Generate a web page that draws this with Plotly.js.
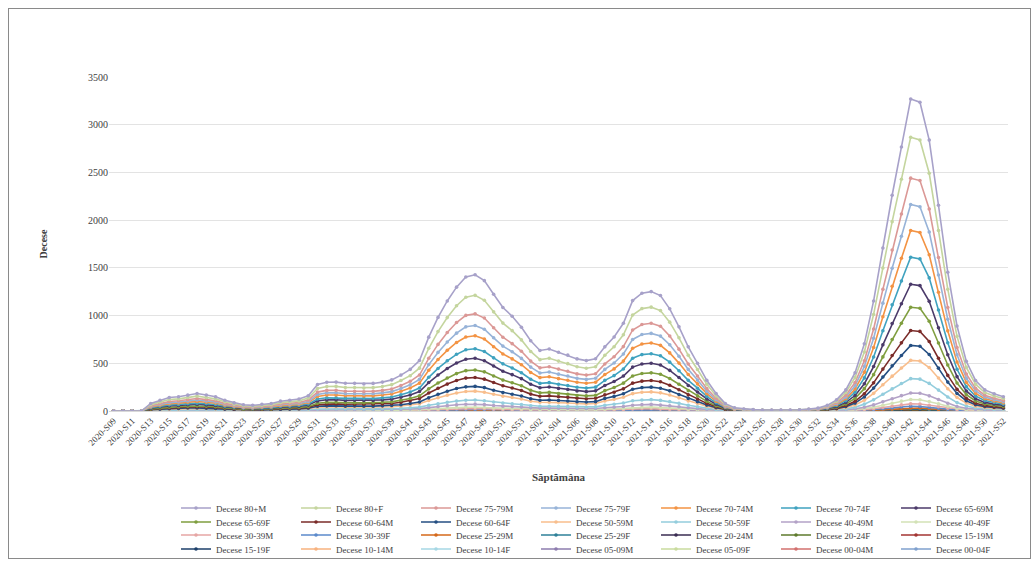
<!DOCTYPE html>
<html><head><meta charset="utf-8">
<script src="https://cdn.plot.ly/plotly-3.0.1.min.js"></script>
<style>
html,body{margin:0;padding:0;background:#fff;}
#wrap{position:relative;width:1036px;height:562px;overflow:hidden;}
#chart{width:1036px;height:562px;}
#frame{position:absolute;left:8px;top:8px;width:1021px;height:549px;border:1px solid #8a8a8a;pointer-events:none;}
</style></head>
<body><div id="wrap"><div id="chart"></div><div id="frame"></div></div>
<script>
const weeks = ['2020-S09','2020-S10','2020-S11','2020-S12','2020-S13','2020-S14','2020-S15','2020-S16','2020-S17','2020-S18','2020-S19','2020-S20','2020-S21','2020-S22','2020-S23','2020-S24','2020-S25','2020-S26','2020-S27','2020-S28','2020-S29','2020-S30','2020-S31','2020-S32','2020-S33','2020-S34','2020-S35','2020-S36','2020-S37','2020-S38','2020-S39','2020-S40','2020-S41','2020-S42','2020-S43','2020-S44','2020-S45','2020-S46','2020-S47','2020-S48','2020-S49','2020-S50','2020-S51','2020-S52','2020-S53',
'2021-S01','2021-S02','2021-S03','2021-S04','2021-S05','2021-S06','2021-S07','2021-S08','2021-S09','2021-S10','2021-S11','2021-S12','2021-S13','2021-S14','2021-S15','2021-S16','2021-S17','2021-S18','2021-S19','2021-S20','2021-S21','2021-S22','2021-S23','2021-S24','2021-S25','2021-S26','2021-S27','2021-S28','2021-S29','2021-S30','2021-S31','2021-S32','2021-S33','2021-S34','2021-S35','2021-S36','2021-S37','2021-S38','2021-S39','2021-S40','2021-S41','2021-S42','2021-S43','2021-S44','2021-S45','2021-S46','2021-S47','2021-S48','2021-S49','2021-S50','2021-S51','2021-S52'];

// Weekly deaths per group (each series' own value; the chart stacks them)
const d80M = [0,0,0,0,12,17,22,23,25,28,26,23,17,13,10,9,11,12,15,17,19,24,42,45,45,44,44,43,44,46,50,57,66,80,117,149,174,195,212,215,206,185,164,151,133,112,96,98,93,89,83,80,83,
 88,101,120,151,161,163,158,140,115,88,65,42,24,10,5,3,2,1,
 1,1,1,1,2,4,7,14,27,49,86,141,209,277,338,400,396,348,264,178,109,64,39,27,22,18];
const d80F = [0,0,0,0,11,16,20,20,22,25,23,20,16,11,9,8,9,11,14,16,17,22,38,41,41,40,39,38,39,41,45,51,59,72,105,134,157,176,190,194,186,167,148,136,119,101,86,88,84,80,74,72,74,
 91,105,124,157,167,169,164,145,119,91,68,44,25,11,5,3,2,1,
 1,1,1,2,3,4,8,15,29,53,92,152,224,297,363,429,425,374,284,191,117,69,42,29,24,20];
const d7579M = [0,0,0,0,7,10,12,13,14,16,14,13,10,7,6,5,6,7,9,10,11,14,24,26,26,25,25,24,25,26,28,32,37,45,66,84,99,111,120,122,117,105,93,85,75,63,54,56,53,50,47,45,47,
 57,66,78,99,105,106,103,91,75,57,43,28,16,7,3,2,1,1,
 1,1,1,1,2,3,5,10,19,34,60,98,145,191,234,276,274,241,183,123,76,44,27,19,15,13];
const d7579F = [0,0,0,0,6,9,11,11,12,14,13,11,9,6,5,5,5,6,8,9,9,12,21,23,23,22,22,21,22,23,25,29,33,40,59,74,87,98,106,108,103,93,82,75,66,56,48,49,47,44,41,40,41,
 54,62,74,93,99,100,97,86,71,54,40,26,15,6,3,2,1,1,
 1,1,1,1,2,3,5,10,18,34,59,97,143,189,231,273,270,238,181,122,75,44,27,18,15,13];
const d7074M = [0,0,0,0,8,11,14,14,16,18,16,14,11,8,6,6,7,8,10,11,12,15,27,29,29,28,28,27,28,29,31,36,42,51,74,94,110,124,134,136,131,117,104,95,84,71,61,62,59,56,52,51,52,
 61,70,83,104,111,113,109,97,80,61,45,29,17,7,3,2,1,1,
 1,1,1,1,2,3,5,10,19,34,60,99,146,194,237,280,277,243,185,125,77,45,28,19,15,13];
const d7074F = [0,0,0,0,6,8,10,11,12,13,12,11,8,6,5,4,5,6,7,8,9,11,20,21,21,21,20,20,20,21,23,27,31,37,55,69,81,91,99,100,96,86,77,70,62,52,45,46,43,41,39,37,39,
 54,62,74,93,99,100,97,86,71,54,40,26,15,6,3,2,1,1,
 1,1,1,1,2,3,5,10,19,35,61,100,148,196,239,283,280,246,187,126,77,45,28,19,16,13];
const d6569M = [0,0,0,0,7,10,12,13,14,16,14,13,10,7,6,5,6,7,9,10,11,14,24,26,26,25,25,24,25,26,28,32,37,45,66,84,99,111,120,122,117,105,93,85,75,63,54,56,53,50,47,45,47,
 54,62,74,93,99,100,97,86,71,54,40,26,15,6,3,2,1,1,
 1,1,1,1,1,2,4,9,16,30,52,85,126,167,204,241,238,209,159,107,66,38,24,16,13,11];
const d6569F = [0,0,0,0,4,6,8,8,9,10,9,8,6,5,4,3,4,4,6,6,7,9,15,17,17,16,16,16,16,17,18,21,24,29,43,54,64,72,78,79,76,68,60,55,49,41,35,36,34,32,30,29,30,
 44,51,60,75,80,81,79,70,58,44,33,21,12,5,2,1,1,1,
 1,1,1,1,2,2,5,9,17,30,53,86,128,169,206,244,242,212,161,109,67,39,24,17,14,11];
const d6064M = [0,0,0,0,5,7,9,10,11,12,11,10,7,6,4,4,5,5,7,7,8,10,18,20,20,19,19,19,19,20,21,25,29,35,51,64,75,85,92,93,89,80,71,65,58,48,42,43,40,38,36,35,36,
 37,43,51,64,68,69,67,59,49,37,28,18,10,4,2,1,1,1,
 0,0,0,1,1,1,3,6,11,19,34,55,82,108,132,156,155,136,103,70,43,25,15,11,9,7];
const d6064F = [0,0,0,0,3,4,5,5,6,6,6,5,4,3,2,2,2,3,4,4,4,6,10,11,11,10,10,10,10,11,12,13,15,19,27,35,41,46,49,50,48,43,38,35,31,26,22,23,22,21,19,19,19,
 27,31,37,46,49,50,49,43,35,27,20,13,7,3,1,1,1,0,
 0,0,0,1,1,1,3,6,11,19,34,55,82,108,132,156,155,136,103,70,43,25,15,11,9,7];
const d5059M = [0,0,0,0,5,7,9,10,11,12,11,10,7,6,4,4,5,5,7,7,8,10,18,20,20,19,19,19,19,20,21,25,29,35,51,64,75,85,92,93,89,80,71,65,58,48,42,43,40,38,36,35,36,
 44,51,60,75,80,81,79,70,58,44,33,21,12,5,2,1,1,1,
 1,1,1,1,1,2,4,7,13,24,41,68,100,133,162,192,190,167,127,86,53,31,19,13,11,9];
const d5059F = [0,0,0,0,2,3,4,5,5,6,5,5,3,3,2,2,2,2,3,3,4,5,8,9,9,9,9,9,9,9,10,11,13,16,23,30,35,39,42,43,41,37,33,30,27,22,19,20,19,18,17,16,17,
 27,31,37,46,49,50,49,43,35,27,20,13,7,3,1,1,1,0,
 0,0,0,1,1,1,3,5,10,18,32,53,78,104,127,150,148,130,99,67,41,24,15,10,8,7];
const d4049M = [0,0,0,0,2,3,3,3,4,4,4,3,3,2,1,1,2,2,2,3,3,4,6,7,7,6,6,6,6,7,7,8,10,12,17,22,26,29,31,32,30,27,24,22,19,16,14,14,14,13,12,12,12,
 15,17,20,26,27,28,27,24,19,15,11,7,4,2,1,0,0,0,
 0,0,0,0,0,1,1,2,5,8,15,24,36,47,58,68,68,59,45,30,19,11,7,5,4,3];
const d4049F = [0,0,0,0,1,1,1,2,2,2,2,2,1,1,1,1,1,1,1,1,1,2,3,3,3,3,3,3,3,3,3,4,4,5,8,10,12,13,14,14,14,12,11,10,9,7,6,7,6,6,6,5,6,
 8,9,11,14,15,15,15,13,11,8,6,4,2,1,0,0,0,0,
 0,0,0,0,0,0,1,2,3,6,10,16,24,32,39,46,45,40,30,20,12,7,4,3,3,2];
const d3039M = [0,0,0,0,0,1,1,1,1,1,1,1,1,1,0,0,0,0,1,1,1,1,2,2,2,2,2,2,2,2,2,2,3,3,5,6,7,8,8,9,8,7,7,6,5,4,4,4,4,4,3,3,3,
 5,5,6,8,9,9,9,8,6,5,4,2,1,1,0,0,0,0,
 0,0,0,0,0,0,0,1,2,3,6,9,14,18,22,26,26,23,17,12,7,4,3,2,1,1];
const d3039F = [0,0,0,0,0,0,1,1,1,1,1,1,0,0,0,0,0,0,0,0,1,1,1,1,1,1,1,1,1,1,1,2,2,2,3,4,5,5,6,6,6,5,4,4,4,3,3,3,2,2,2,2,2,
 3,4,4,5,6,6,5,5,4,3,2,1,1,0,0,0,0,0,
 0,0,0,0,0,0,0,1,1,2,4,6,9,11,14,16,16,14,11,7,4,3,2,1,1,1];
const d2529M = [0,0,0,0,0,0,0,0,1,0,0,0,0,0,0,0,0,0,0,0,0,0,1,1,1,1,1,1,1,1,1,1,1,1,2,2,2,3,3,3,3,2,2,2,2,1,1,1,1,1,1,1,1,
 1,2,2,2,2,3,2,2,2,1,1,1,0,0,0,0,0,0,
 0,0,0,0,0,0,0,0,1,1,2,3,4,6,7,8,8,7,5,4,2,1,1,1,0,0];
const d2529F = [0,0,0,0,0,0,0,0,0,0,0,0,0,0,0,0,0,0,0,0,0,0,0,0,1,0,0,0,0,0,0,0,1,1,1,1,1,1,2,1,1,1,1,1,1,1,1,1,1,1,0,1,1,
 1,1,1,1,2,2,1,1,1,1,1,0,0,0,0,0,0,0,
 0,0,0,0,0,0,0,0,0,1,1,2,3,3,4,5,5,4,3,2,1,1,0,0,0,0];
const d2024M = [0,0,0,0,0,0,0,0,0,0,0,0,0,0,0,0,0,0,0,0,0,0,0,0,0,0,1,0,0,0,0,0,0,1,1,1,1,2,1,1,1,1,1,1,1,1,1,0,1,1,1,0,1,
 1,1,1,1,1,2,1,1,1,1,0,0,0,0,0,0,0,0,
 0,0,0,0,0,0,0,0,0,1,1,2,2,3,4,5,5,4,3,2,1,1,0,0,0,0];
const d2024F = [0,0,0,0,0,0,0,0,0,0,0,0,0,0,0,0,0,0,0,0,0,0,0,0,0,0,0,0,0,0,0,0,0,0,0,0,1,1,1,1,1,1,0,0,0,0,0,0,0,0,0,0,0,
 0,1,1,1,1,1,1,1,1,0,0,0,0,0,0,0,0,0,
 0,0,0,0,0,0,0,0,0,0,1,1,2,2,3,3,3,3,2,1,1,0,0,0,0,0];
const d1519M = [0,0,0,0,0,0,0,0,0,0,0,0,0,0,0,0,0,0,0,0,0,0,0,0,0,0,0,0,0,0,0,0,0,0,0,0,0,1,1,1,1,0,0,0,0,0,0,0,0,0,0,0,0,
 0,0,1,1,1,1,0,0,0,0,0,0,0,0,0,0,0,0,
 0,0,0,0,0,0,0,0,0,0,0,1,1,1,2,2,2,1,1,1,0,0,0,0,0,0];
const d1519F = [0,0,0,0,0,0,0,0,0,0,0,0,0,0,0,0,0,0,0,0,0,0,0,0,0,0,0,0,0,0,0,0,0,0,0,0,0,0,1,1,0,0,0,0,0,0,0,0,0,0,0,0,0,
 0,0,0,1,1,0,0,0,0,0,0,0,0,0,0,0,0,0,
 0,0,0,0,0,0,0,0,0,0,0,0,1,1,2,2,2,1,1,0,0,0,0,0,0,0];
const d1014M = [0,0,0,0,0,0,0,0,0,0,0,0,0,0,0,0,0,0,0,0,0,0,0,0,0,0,0,0,0,0,0,0,0,0,0,0,0,0,0,1,0,0,0,0,0,0,0,0,0,0,0,0,0,
 0,0,0,0,0,0,0,0,0,0,0,0,0,0,0,0,0,0,
 0,0,0,0,0,0,0,0,0,0,0,0,0,1,1,1,1,0,0,0,0,0,0,0,0,0];
const d1014F = [0,0,0,0,0,0,0,0,0,0,0,0,0,0,0,0,0,0,0,0,0,0,0,0,0,0,0,0,0,0,0,0,0,0,0,0,0,0,0,0,0,0,0,0,0,0,0,0,0,0,0,0,0,
 0,0,0,0,0,0,0,0,0,0,0,0,0,0,0,0,0,0,
 0,0,0,0,0,0,0,0,0,0,0,0,0,0,1,1,0,0,0,0,0,0,0,0,0,0];
const d0509M = [0,0,0,0,0,0,0,0,0,0,0,0,0,0,0,0,0,0,0,0,0,0,0,0,0,0,0,0,0,0,0,0,0,0,0,0,0,0,0,0,0,0,0,0,0,0,0,0,0,0,0,0,0,
 0,0,0,0,0,0,0,0,0,0,0,0,0,0,0,0,0,0,
 0,0,0,0,0,0,0,0,0,0,0,0,0,0,0,1,0,0,0,0,0,0,0,0,0,0];
const d0509F = [0,0,0,0,0,0,0,0,0,0,0,0,0,0,0,0,0,0,0,0,0,0,0,0,0,0,0,0,0,0,0,0,0,0,0,0,0,0,0,0,0,0,0,0,0,0,0,0,0,0,0,0,0,
 0,0,0,0,0,0,0,0,0,0,0,0,0,0,0,0,0,0,
 0,0,0,0,0,0,0,0,0,0,0,0,0,0,0,1,1,0,0,0,0,0,0,0,0,0];
const d0004M = [0,0,0,0,0,0,0,0,0,0,0,0,0,0,0,0,0,0,0,0,0,0,0,0,0,0,0,0,0,0,0,0,0,0,0,0,1,1,1,1,1,1,1,0,0,0,0,0,0,0,0,0,0,
 0,0,0,1,1,1,1,0,0,0,0,0,0,0,0,0,0,0,
 0,0,0,0,0,0,0,0,0,0,0,0,1,2,2,2,2,2,1,1,0,0,0,0,0,0];
const d0004F = [0,0,0,0,0,0,0,0,0,0,0,0,0,0,0,0,0,0,0,0,0,0,0,0,0,0,0,0,0,0,0,0,0,0,0,0,0,1,1,1,1,1,0,0,0,0,0,0,0,0,0,0,0,
 0,0,0,0,1,1,0,0,0,0,0,0,0,0,0,0,0,0,
 0,0,0,0,0,0,0,0,0,0,0,0,0,1,2,2,2,1,1,0,0,0,0,0,0,0];

// Series names in legend order (as in the reference legend)
const names = ['Decese 80+M','Decese 80+F','Decese 75-79M','Decese 75-79F','Decese 70-74M','Decese 70-74F','Decese 65-69M',
 'Decese 65-69F','Decese 60-64M','Decese 60-64F','Decese 50-59M','Decese 50-59F','Decese 40-49M','Decese 40-49F',
 'Decese 30-39M','Decese 30-39F','Decese 25-29M','Decese 25-29F','Decese 20-24M','Decese 20-24F','Decese 15-19M',
 'Decese 15-19F','Decese 10-14M','Decese 10-14F','Decese 05-09M','Decese 05-09F','Decese 00-04M','Decese 00-04F'];
const values = [d80M,d80F,d7579M,d7579F,d7074M,d7074F,d6569M,d6569F,d6064M,d6064F,d5059M,d5059F,d4049M,d4049F,
 d3039M,d3039F,d2529M,d2529F,d2024M,d2024F,d1519M,d1519F,d1014M,d1014F,d0509M,d0509F,d0004M,d0004F];
const colors = ['#A7A1C9','#C4D59E','#DB9896','#97B3D8','#F39343','#3FA2BF','#4B3A6A',
 '#7F9E3F','#7A2B29','#244E82','#F8BE8D','#93CDDD','#B3A2C7','#D3E2B6',
 '#E6A6A4','#5B8ACB','#D5681A','#2E8098','#3A2C52','#5E7A2C','#A33532',
 '#1C3F6A','#F7B27E','#A6D7E4','#8D7CAE','#C9DB9E','#D2706E','#7FA0CE'];

const legendIds = ['legend','legend2','legend3','legend4'];
const traces = [];
for (let p = names.length - 1; p >= 0; p--) {   // bottom of the stack first
  if (values[p].length !== weeks.length) throw new Error(names[p] + ' has ' + values[p].length);
  traces.push({
    type:'scatter', mode:'lines+markers', x:weeks, y:values[p], name:names[p],
    stackgroup:'one', fill:'none',
    line:{color:colors[p], width:1.6},
    marker:{color:colors[p], size:3.6},
    legend: legendIds[Math.floor(p/7)]
  });
}

const legFont = {family:'Liberation Serif, Times New Roman, serif', size:9, color:'#404040'};
const rowY = [508, 522, 535, 549];
const layout = {
  width:1036, height:562,
  margin:{l:108.5, r:28, t:77, b:151},
  paper_bgcolor:'#ffffff', plot_bgcolor:'#ffffff',
  showlegend:true,
  xaxis:{type:'category', range:[-0.5, weeks.length-0.5], tickmode:'linear', tick0:0, dtick:2,
    tickangle:-45, tickfont:{family:'Liberation Serif, serif', size:9, color:'#404040'},
    showgrid:false, showline:true, linecolor:'#d9d9d9', ticks:'', automargin:false,
    title:{text:'<b>Săptămâna</b>', font:{family:'Liberation Serif, serif', size:11, color:'#404040'}, standoff:26}},
  yaxis:{range:[0,3500], dtick:500, tickfont:{family:'Liberation Serif, serif', size:10, color:'#404040'},
    showgrid:true, gridcolor:'#e3e3e3', zeroline:false, showline:false, ticks:'', automargin:false,
    title:{text:'<b>Decese</b>', font:{family:'Liberation Serif, serif', size:10, color:'#404040'}, standoff:38}}
};
legendIds.forEach((id, r) => {
  layout[id] = {orientation:'h', xref:'container', yref:'container', x:176/1036, xanchor:'left',
    y:1 - rowY[r]/562, yanchor:'middle', entrywidth:75, entrywidthmode:'pixels', traceorder:'reversed',
    font:legFont, bgcolor:'rgba(0,0,0,0)', borderwidth:0, itemwidth:30};
});
Plotly.newPlot('chart', traces, layout, {displayModeBar:false, staticPlot:true});
</script></body></html>
